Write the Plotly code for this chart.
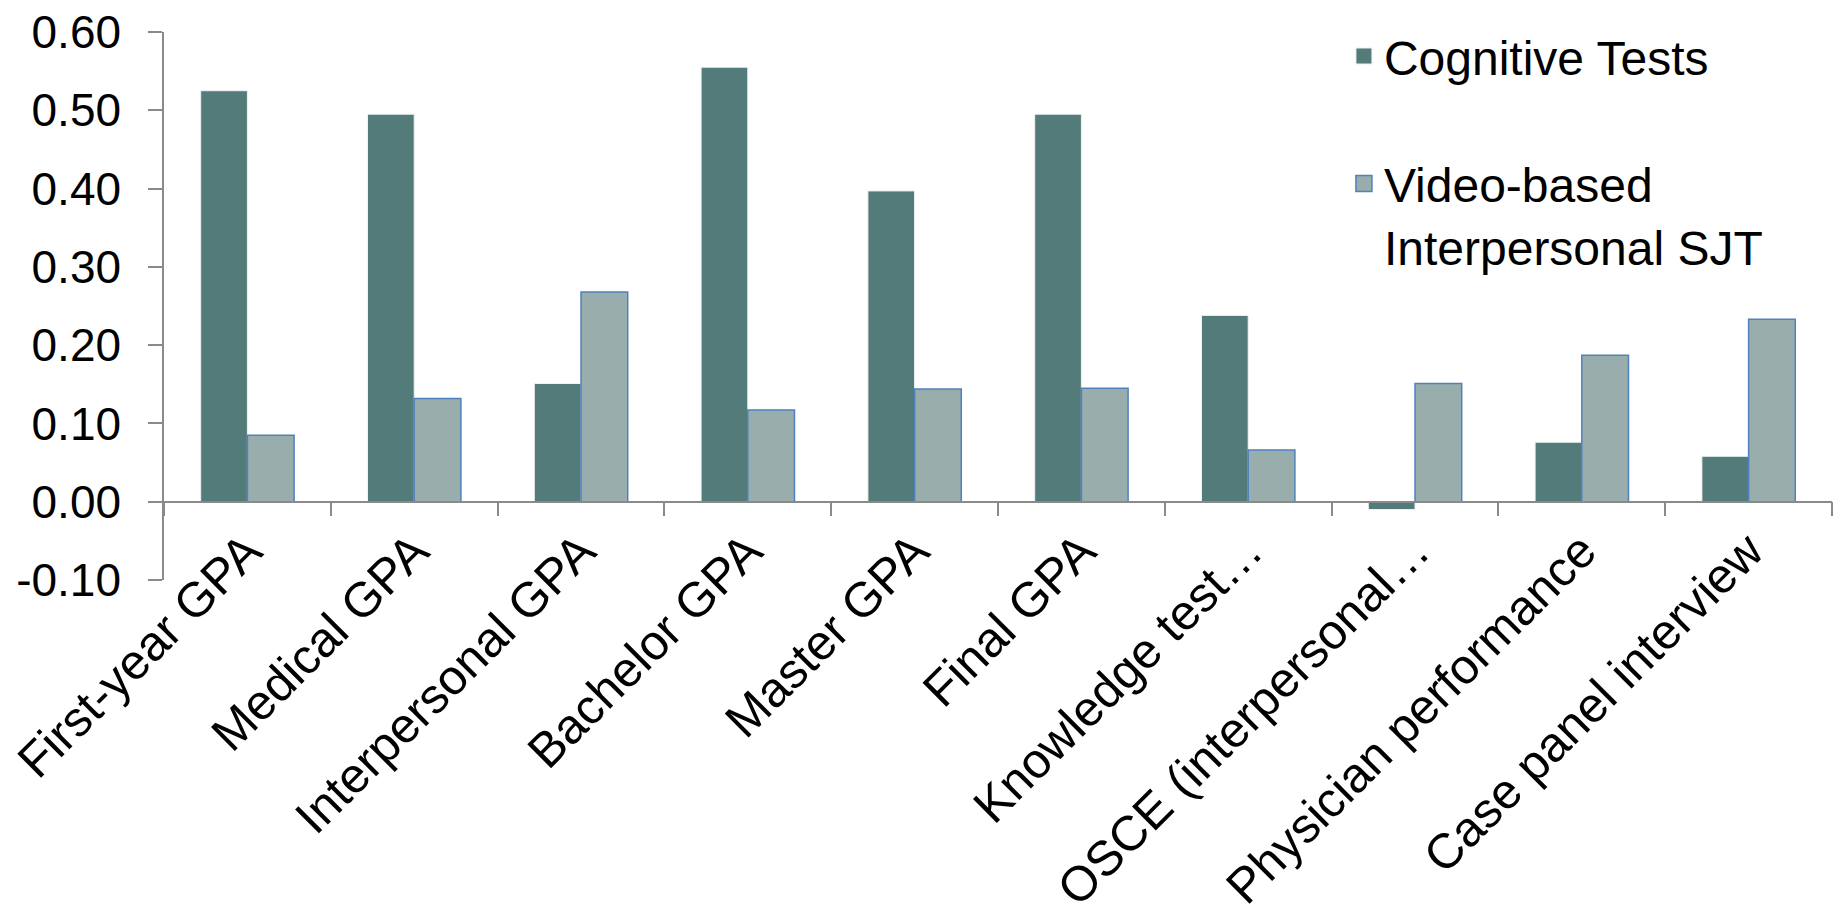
import plotly.graph_objects as go

categories = ["First-year GPA", "Medical GPA", "Interpersonal GPA", "Bachelor GPA",
              "Master GPA", "Final GPA", "Knowledge test…", "OSCE (interpersonal…",
              "Physician performance", "Case panel interview"]
cognitive = [0.525, 0.495, 0.151, 0.555, 0.397, 0.495, 0.238, -0.010, 0.076, 0.058]
video_sjt = [0.085, 0.132, 0.268, 0.117, 0.144, 0.145, 0.066, 0.151, 0.187, 0.233]
series_names = ["Cognitive Tests", "Video-based<br>Interpersonal SJT"]
y_tick_vals = [-0.10, 0.00, 0.10, 0.20, 0.30, 0.40, 0.50, 0.60]
y_tick_text = ["-0.10", "0.00", "0.10", "0.20", "0.30", "0.40", "0.50", "0.60"]

FONT = "Liberation Sans, Arial, sans-serif"
AXIS_COLOR = "#8a8a8a"
COG_COLOR = "#527b79"
VID_COLOR = "#99adad"
VID_EDGE = "#4f81bd"

fig = go.Figure()
fig.add_trace(go.Bar(
    x=categories, y=cognitive, name=series_names[0], showlegend=False,
    marker=dict(color=COG_COLOR, line=dict(color="#eef2f2", width=1)),
))
fig.add_trace(go.Bar(
    x=categories, y=video_sjt, name=series_names[1], showlegend=False,
    marker=dict(color=VID_COLOR, line=dict(color=VID_EDGE, width=1.5)),
))
# legend entries with larger square swatches
fig.add_trace(go.Scatter(
    x=[None], y=[None], mode="markers", name=series_names[0], legendgroup="a",
    marker=dict(symbol="square", size=16, color=COG_COLOR, line=dict(color="#eef2f2", width=1)),
))
fig.add_trace(go.Scatter(
    x=[None], y=[None], mode="markers", name=series_names[1], legendgroup="b",
    marker=dict(symbol="square", size=16, color=VID_COLOR, line=dict(color=VID_EDGE, width=1.5)),
))

fig.update_layout(
    width=1839, height=904,
    margin=dict(l=164, r=7, t=32, b=324, autoexpand=False),
    paper_bgcolor="white", plot_bgcolor="white",
    font=dict(family=FONT, size=46, color="black"),
    barmode="group", bargap=0.44, bargroupgap=0,
    showlegend=True,
    legend=dict(
        x=0.7074, y=1.025, xanchor="left", yanchor="top",
        traceorder="grouped", tracegroupgap=62, valign="top",
        font=dict(family=FONT, size=48, color="black"),
        bgcolor="rgba(0,0,0,0)", itemsizing="trace",
    ),
    xaxis=dict(
        anchor="free", position=1/7, automargin=False,
        showline=True, linecolor=AXIS_COLOR, linewidth=1.5,
        ticks="outside", tickson="boundaries", ticklen=14, tickwidth=1.5, tickcolor=AXIS_COLOR,
        tickangle=-45, tickfont=dict(family=FONT, size=49, color="black"),
        showgrid=False, zeroline=False,
    ),
    yaxis=dict(
        range=[-0.1, 0.6], domain=[0, 1], automargin=False,
        tickvals=y_tick_vals, ticktext=y_tick_text,
        showline=True, linecolor=AXIS_COLOR, linewidth=1.5,
        ticks="outside", ticklen=14, tickwidth=1.5, tickcolor=AXIS_COLOR,
        ticklabelstandoff=18,
        tickfont=dict(family=FONT, size=46, color="black"),
        showgrid=False, zeroline=False,
    ),
)

fig.write_html("out.html")
